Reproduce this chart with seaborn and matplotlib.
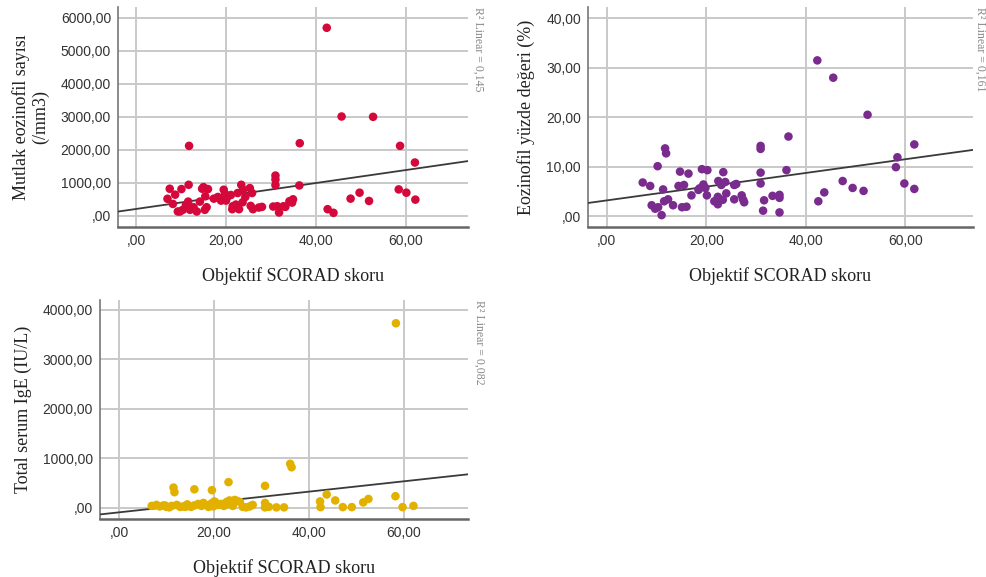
import numpy as np
import pandas as pd
import matplotlib
matplotlib.use("Agg")
import matplotlib.pyplot as plt
from matplotlib.ticker import FuncFormatter, FixedLocator
import matplotlib.transforms as mtransforms
import seaborn as sns

# ---------------- data ----------------
# Panel 1: absolute eosinophil count vs objective SCORAD
scorad_eos = [42.4, 45.7, 52.7, 11.8, 36.4, 58.7, 62.0, 31.0, 31.0, 31.0, 36.3, 58.4, 60.1,
              49.7, 47.7, 51.8, 62.1, 42.6, 43.9, 34.9, 34.7, 33.2, 31.4, 31.8, 30.5,
              7.5, 7.0, 10.1, 11.7, 8.2, 9.3, 10.4, 11.1, 11.6, 12.8, 13.5, 14.2, 15.3, 15.7,
              14.7, 16.0, 15.4, 17.3, 18.2, 19.5, 19.8, 20.0, 18.9, 20.3, 21.1, 21.4, 22.2,
              22.9, 23.4, 23.8, 24.3, 23.7, 22.6, 25.3, 25.8, 26.0, 27.3, 28.0, 32.8, 34.1,
              8.7, 15.0, 12.0, 9.8, 19.9, 25.5, 21.5]
eos_abs = [5700, 3010, 3000, 2120, 2200, 2120, 1615, 1220, 1100, 930, 920, 800, 700,
           700, 520, 450, 490, 200, 90, 500, 400, 270, 290, 100, 280,
           820, 515, 810, 940, 360, 130, 180, 330, 430, 260, 130, 430, 180, 260,
           820, 810, 590, 520, 570, 790, 660, 460, 460, 570, 630, 200, 340,
           200, 940, 790, 570, 410, 690, 840, 690, 200, 250, 270, 290, 440,
           640, 870, 180, 130, 490, 300, 290]

# Panel 2: eosinophil percentage vs objective SCORAD
scorad_pct = [42.3, 45.5, 52.4, 36.5, 61.8, 30.9, 30.9, 11.7, 11.9, 58.4, 58.1, 10.2, 36.1, 30.9,
              47.4, 59.8, 49.4, 51.6, 61.8, 43.7, 42.5, 31.6, 31.4, 34.7, 33.3, 34.7, 34.7, 30.9,
              7.2, 8.7, 11.3, 9.0, 9.7, 10.3, 11.0, 11.5, 12.3, 13.3, 14.7, 16.4, 14.4, 15.5,
              15.1, 16.0, 17.0, 18.4, 19.1, 20.2, 19.4, 19.8, 20.1, 18.6, 21.6, 22.3, 22.3,
              22.4, 23.0, 23.4, 23.8, 24.0, 23.3, 25.6, 26.0, 25.6, 27.1, 27.6, 27.4]
eos_pct = [31.5, 28.0, 20.5, 16.1, 14.5, 14.2, 13.6, 13.7, 12.7, 11.9, 9.9, 10.1, 9.3, 8.8,
           7.1, 6.6, 5.7, 5.1, 5.5, 4.8, 3.0, 3.2, 1.1, 0.75, 4.1, 3.7, 4.3, 6.6,
           6.8, 6.1, 5.4, 2.2, 1.5, 1.8, 0.2, 3.0, 3.4, 2.2, 9.0, 8.6, 6.1, 6.3,
           1.8, 1.9, 4.2, 5.3, 9.5, 9.3, 6.4, 5.7, 4.2, 5.6, 3.0, 2.4, 3.9,
           7.1, 6.3, 8.9, 6.9, 4.6, 3.3, 6.3, 6.5, 3.4, 4.2, 2.8, 3.3]

# Panel 3: total serum IgE vs objective SCORAD
scorad_ige = [58.4, 36.1, 36.4, 30.8, 23.1, 11.5, 11.7, 15.9, 19.6, 58.3, 43.8, 45.6, 42.4,
              42.5, 47.2, 49.1, 51.5, 52.6, 59.8, 62.1, 30.8, 30.8, 31.6, 33.2, 34.8,
              6.9, 7.9, 8.6, 9.4, 10.0, 10.6, 11.1, 12.2, 12.9, 13.6, 14.4, 15.2, 15.9, 16.7,
              17.4, 18.2, 18.9, 19.5, 19.9, 20.4, 21.0, 21.6, 22.1, 22.7, 23.3, 23.8, 24.4,
              24.9, 25.5, 26.1, 26.8, 27.6, 28.2, 20.1, 22.5, 24.0, 17.8, 14.0, 9.8]
ige = [3730, 890, 820, 445, 520, 410, 317, 375, 357, 235, 270, 150, 130,
       15, 15, 15, 110, 180, 15, 40, 100, 10, 20, 10, 10,
       40, 60, 30, 50, 20, 10, 40, 60, 20, 30, 70, 20, 50, 80,
       40, 60, 20, 90, 30, 110, 60, 80, 40, 120, 150, 90, 160,
       140, 120, 20, 10, 30, 60, 130, 60, 40, 100, 20, 45]

x_label = "Objektif SCORAD skoru"
y_labels = ["Mutlak eozinofil sayısı\n(/mm3)", "Eozinofil yüzde değeri (%)", "Total serum IgE (IU/L)"]
r2_texts = ["R² Linear = 0,145", "R² Linear = 0,161", "R² Linear = 0,082"]
x_ticks = [0, 20, 40, 60]
y_ticks = [[0, 1000, 2000, 3000, 4000, 5000, 6000],
           [0, 10, 20, 30, 40],
           [0, 1000, 2000, 3000, 4000]]
colors = ["#d4083a", "#7a2b8e", "#e2b100"]

# ---------------- figure ----------------
sns.set_theme(style="white")
plt.rcParams["font.family"] = ["Liberation Sans", "DejaVu Sans"]

fig = plt.figure(figsize=(9.87, 5.77), dpi=100)
W, H = 987, 577

def make_ax(l, r, t, b):
    return fig.add_axes([l / W, 1 - b / H, (r - l) / W, (b - t) / H])

axes = [make_ax(118, 468, 7, 227), make_ax(588, 973, 7, 227), make_ax(100, 468, 300, 519)]
xlims = [(-4.0, 73.8), (-3.8, 73.6), (-4.0, 73.6)]
ylims = [(-340, 6330), (-2.2, 42.3), (-225, 4200)]
r2_offsets_px = [4, 1, 5]
datasets = [(scorad_eos, eos_abs), (scorad_pct, eos_pct), (scorad_ige, ige)]

def fmt(v, pos):
    s = f"{v:.2f}".replace(".", ",")
    if s.startswith("0,"):
        s = s[1:]
    return s

for i, ax in enumerate(axes):
    xs, ys = datasets[i]
    df = pd.DataFrame({"x": xs, "y": ys})
    ax.set_xlim(*xlims[i])
    ax.set_ylim(*ylims[i])
    ax.xaxis.set_major_locator(FixedLocator(x_ticks))
    ax.yaxis.set_major_locator(FixedLocator(y_ticks[i]))
    ax.xaxis.set_major_formatter(FuncFormatter(fmt))
    ax.yaxis.set_major_formatter(FuncFormatter(fmt))
    ax.grid(True, color="#c9c9c9", linewidth=1.4, zorder=0)
    ax.set_axisbelow(True)
    sns.regplot(data=df, x="x", y="y", ax=ax, scatter=False, ci=None, truncate=False,
                line_kws=dict(color="#3a3a3a", linewidth=1.3, zorder=3))
    sns.scatterplot(data=df, x="x", y="y", ax=ax, color=colors[i], s=38,
                    edgecolor="none", linewidth=0, zorder=4, legend=False)
    ax.set_xlim(*xlims[i])
    ax.set_ylim(*ylims[i])
    for side in ["top", "right"]:
        ax.spines[side].set_visible(False)
    ax.spines["left"].set_color("#777777")
    ax.spines["left"].set_linewidth(1.2)
    ax.spines["bottom"].set_color("#666666")
    ax.spines["bottom"].set_linewidth(1.8)
    ax.tick_params(axis="both", length=0, pad=5, labelsize=10, labelcolor="#333333")
    ax.set_xlabel(x_label, family="Liberation Serif", fontsize=13, color="#222222", labelpad=14)
    ax.set_ylabel(y_labels[i], family="Liberation Serif", fontsize=13, color="#222222",
                  labelpad=8, linespacing=1.2)
    trans = ax.transAxes + mtransforms.ScaledTranslation(r2_offsets_px[i] / 100, 0, fig.dpi_scale_trans)
    ax.text(1.0, 1.0, r2_texts[i], transform=trans, rotation=-90,
            ha="left", va="top", fontsize=8.5, color="#888888", family="Liberation Serif")

fig.savefig("out.png", dpi=100)
